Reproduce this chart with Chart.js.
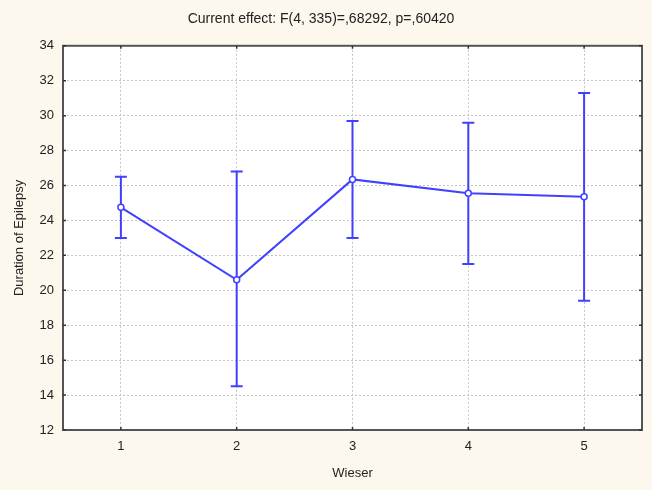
<!DOCTYPE html>
<html>
<head>
<meta charset="utf-8">
<script src="https://cdn.jsdelivr.net/npm/chart.js@4.4.0/dist/chart.umd.min.js"></script>
<style>
  html, body { margin: 0; padding: 0; background: #fcf8ed; }
  #wrap { width: 652px; height: 490px; }
</style>
</head>
<body>
<div id="wrap"><canvas id="myChart" width="652" height="490"></canvas></div>
<script>
var categories = ['1', '2', '3', '4', '5'];
var means = [24.75, 20.6, 26.35, 25.55, 25.35];
var upper = [26.5, 26.8, 29.7, 29.6, 31.3];
var lower = [23.0, 14.5, 23.0, 21.5, 19.4];
var yTicks = [12, 14, 16, 18, 20, 22, 24, 26, 28, 30, 32, 34];

var blue = '#4040ff';

// whiskers and the frame round the plot
var errorBars = {
    id: 'errorBars',
    beforeDatasetsDraw: function(chart) {
        var ctx = chart.ctx;
        var x = chart.scales.x;
        var y = chart.scales.y;
        ctx.save();
        ctx.strokeStyle = blue;
        ctx.lineWidth = 2;
        for (var i = 0; i < categories.length; i++) {
            var px = x.getPixelForValue(i);
            var top = y.getPixelForValue(upper[i]);
            var bot = y.getPixelForValue(lower[i]);
            ctx.beginPath();
            ctx.moveTo(px, top);
            ctx.lineTo(px, bot);
            ctx.moveTo(px - 6, top);
            ctx.lineTo(px + 6, top);
            ctx.moveTo(px - 6, bot);
            ctx.lineTo(px + 6, bot);
            ctx.stroke();
        }
        ctx.restore();
    },
    afterDraw: function(chart) {
        var ctx = chart.ctx;
        var a = chart.chartArea;
        var x = chart.scales.x;
        var y = chart.scales.y;
        ctx.save();
        ctx.strokeStyle = '#555';
        ctx.lineWidth = 2;
        ctx.strokeRect(a.left, a.top, a.right - a.left, a.bottom - a.top);
        ctx.strokeStyle = '#333';
        ctx.lineWidth = 1.5;
        ctx.beginPath();
        for (var i = 0; i < categories.length; i++) {
            var px = x.getPixelForValue(i);
            ctx.moveTo(px, a.bottom);
            ctx.lineTo(px, a.bottom - 3);
            ctx.moveTo(px, a.top);
            ctx.lineTo(px, a.top + 3);
        }
        for (var j = 0; j < yTicks.length; j++) {
            var py = y.getPixelForValue(yTicks[j]);
            ctx.moveTo(a.left, py);
            ctx.lineTo(a.left + 3, py);
            ctx.moveTo(a.right, py);
            ctx.lineTo(a.right - 3, py);
        }
        ctx.stroke();
        ctx.restore();
    }
};

var plotBg = {
    id: 'plotBg',
    beforeDraw: function(chart) {
        var ctx = chart.ctx;
        var a = chart.chartArea;
        ctx.save();
        ctx.fillStyle = '#fcf8ed';
        ctx.fillRect(0, 0, chart.width, chart.height);
        ctx.fillStyle = '#ffffff';
        ctx.fillRect(a.left, a.top, a.right - a.left, a.bottom - a.top);
        ctx.restore();
    }
};

var ctx = document.getElementById('myChart').getContext('2d');

var chart = new Chart(ctx, {
    type: 'line',
    data: {
        labels: categories,
        datasets: [{
            data: means,
            borderColor: blue,
            borderWidth: 2,
            pointRadius: 3,
            pointBorderWidth: 1.5,
            pointBackgroundColor: '#ffffff',
            pointBorderColor: blue,
            tension: 0,
            fill: false
        }]
    },
    options: {
        responsive: false,
        animation: false,
        layout: { padding: { left: 0, right: 10, top: 0, bottom: 0 } },
        plugins: {
            legend: { display: false },
            tooltip: { enabled: false },
            title: {
                display: true,
                text: 'Current effect: F(4, 335)=,68292, p=,60420',
                color: '#222',
                font: { family: 'Liberation Sans', size: 14, weight: 'normal' },
                padding: { top: 11, bottom: 18 }
            }
        },
        scales: {
            x: {
                offset: true,
                grid: { offset: false, color: '#c4c4c4', drawTicks: false },
                border: { display: false, dash: [2, 2] },
                ticks: { color: '#222', padding: 9, font: { family: 'Liberation Sans', size: 13 } },
                title: {
                    display: true,
                    text: 'Wieser',
                    color: '#222',
                    font: { family: 'Liberation Sans', size: 13 },
                    padding: { top: 6, bottom: 9 }
                },
                afterFit: function(scale) { scale.height = 60; }
            },
            y: {
                min: 12,
                max: 34,
                ticks: { stepSize: 2, color: '#222', padding: 9, font: { family: 'Liberation Sans', size: 13 } },
                grid: { color: '#c4c4c4', drawTicks: false },
                border: { display: false, dash: [2, 2] },
                title: {
                    display: true,
                    text: 'Duration of Epilepsy',
                    color: '#222',
                    font: { family: 'Liberation Sans', size: 13 },
                    padding: { top: 12, bottom: 0 }
                },
                afterFit: function(scale) { scale.width = 63; }
            }
        }
    },
    plugins: [plotBg, errorBars]
});
</script>
</body>
</html>
